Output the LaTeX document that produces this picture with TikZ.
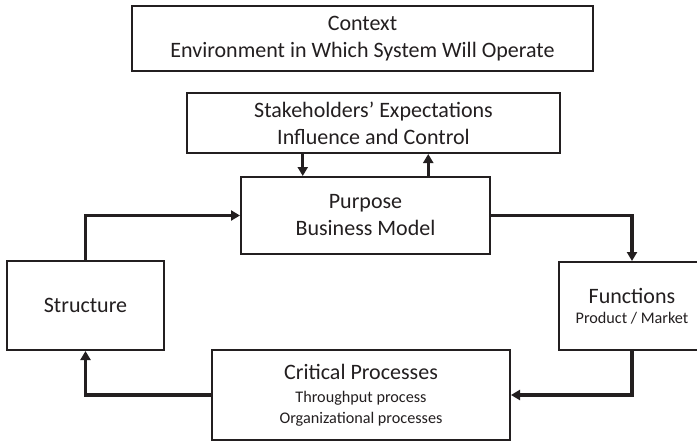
\documentclass[tikz,border=0pt]{standalone}
\usepackage{fontspec}
\setmainfont{Carlito}
\usetikzlibrary{arrows.meta,positioning,calc}
\definecolor{ink}{RGB}{35,31,32}
\newcommand{\subtxt}{\fontsize{8.1}{10}\selectfont}
\tikzset{
  box/.style={draw=ink, line width=1pt, align=center, inner sep=0pt, fill=white, text=ink,
    font=\fontsize{11}{13.5}\selectfont},
  arrow/.style={-{Triangle[length=4.5pt,width=5pt]}, line width=1.7pt, draw=ink}
}
\begin{document}
\begin{tikzpicture}[x=0.5pt, y=-0.5pt]
\useasboundingbox (0,0) rectangle (697,441);
\node[box, minimum width=230.5pt, minimum height=32.5pt] (context) at (362.5,38.5) {Context\\Environment in Which System Will Operate};
\node[box, minimum width=186.5pt, minimum height=30pt] (stake) at (373.5,123) {Stakeholders’ Expectations\\Influence and Control};
\node[box, minimum width=124.5pt, minimum height=38.5pt] (purpose) at (365.5,215.5) {Purpose\\Business Model};
\node[box, minimum width=78.5pt, minimum height=44.5pt] (structure) at (85.5,305.5) {Structure};
\node[box, minimum width=73pt, minimum height=44pt] (functions) at (632,306) {Functions\\[-3.5pt]{\subtxt Product / Market}};
\node[box, minimum width=149pt, minimum height=45pt] (critical) at (361,395) {Critical Processes\\[-2pt]{\subtxt Throughput process}\\[-3pt]{\subtxt Organizational processes}};
% stakeholders <-> purpose
\coordinate (pdown) at ($(purpose.north west)!0.25!(purpose.north east)$);
\coordinate (pup) at ($(purpose.north west)!0.75!(purpose.north east)$);
\draw[arrow] (stake.south -| pdown) -- (pdown);
\draw[arrow] (pup) -- (stake.south -| pup);
% loop
\draw[arrow] (structure.north) |- (purpose.west);
\draw[arrow] (purpose.east) -| (functions.north);
\draw[arrow] (functions.south) |- (critical.east);
\draw[arrow] (critical.west) -| (structure.south);
\end{tikzpicture}
\end{document}
